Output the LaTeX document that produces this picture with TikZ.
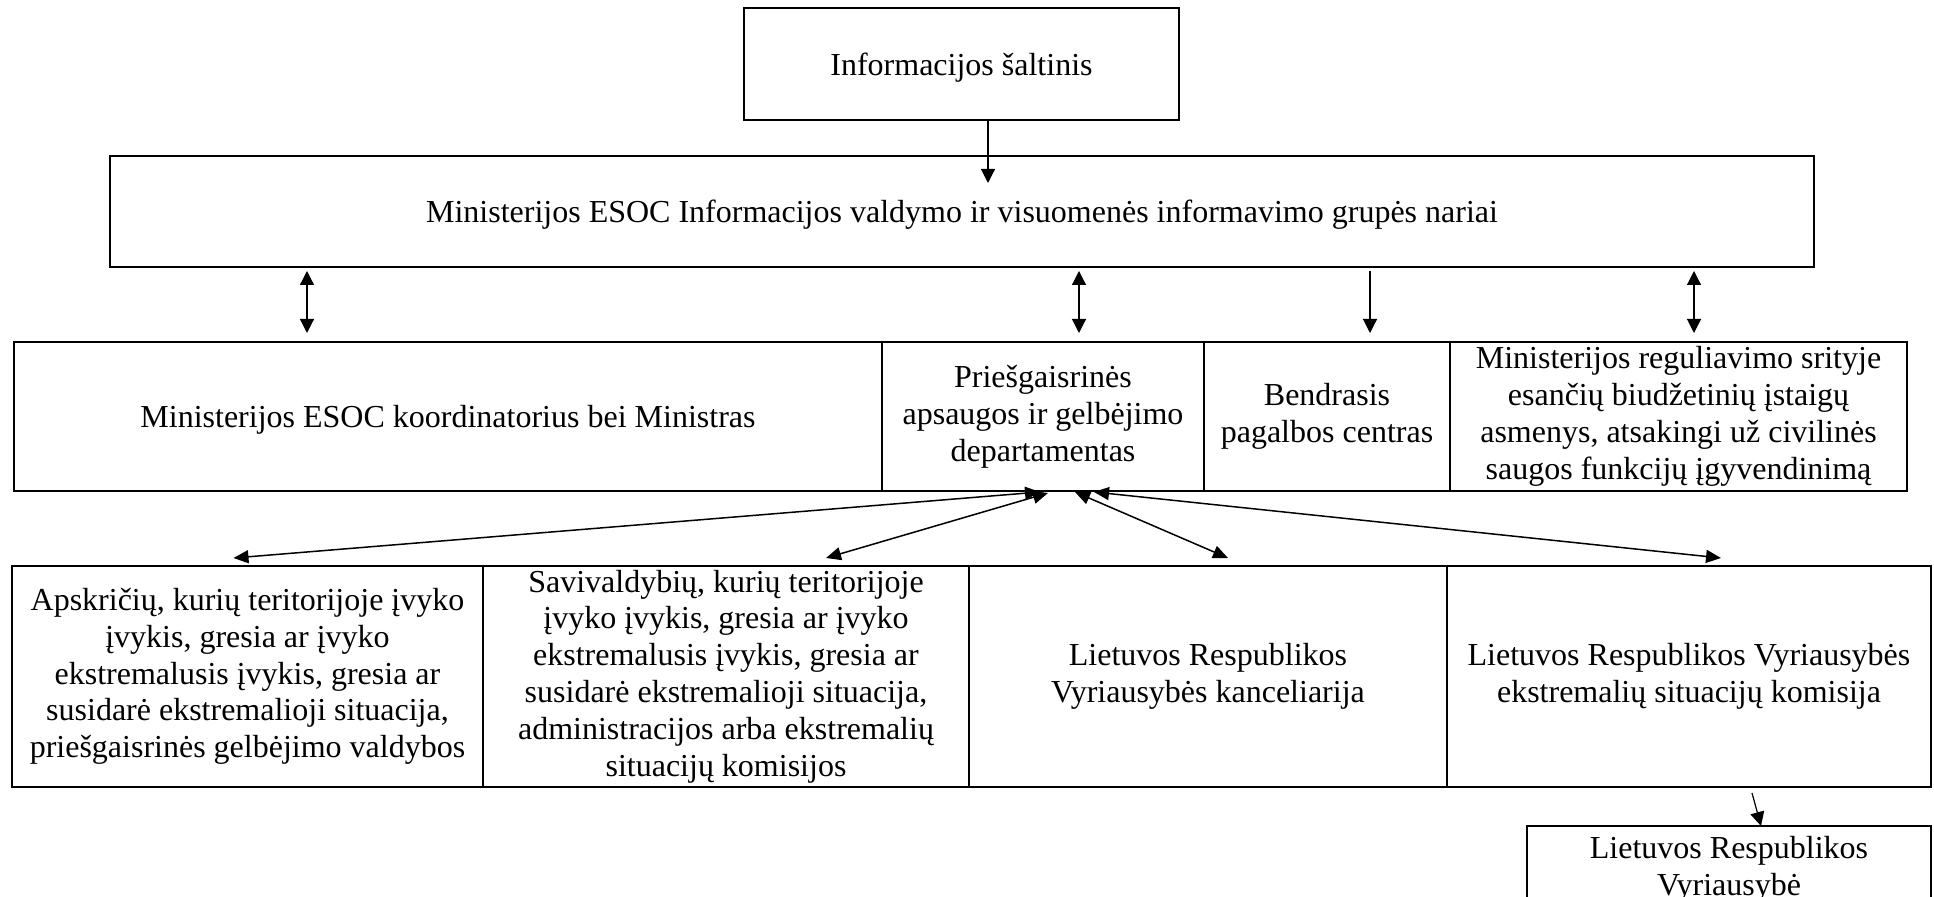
\documentclass[tikz,border=0pt]{standalone}
\usepackage{fontspec}
\setmainfont{Liberation Serif}
\usepackage{tikz}
\usetikzlibrary{arrows.meta,positioning,calc}

\begin{document}
\begin{tikzpicture}[
    x=0.5pt, y=-0.5pt,
    node distance=0pt,
    font=\fontsize{16}{18.4}\selectfont,
    box/.style={rectangle, draw, line width=0.85pt, align=center, outer sep=0pt, inner sep=2pt},
    line/.style={draw, line width=0.6pt, -{Triangle[length=7pt,width=7pt]}},
    both/.style={draw, line width=0.6pt, {Triangle[length=7pt,width=7pt]}-{Triangle[length=7pt,width=7pt]}},
    fan/.style={draw, line width=0.75pt, {Triangle[length=7.5pt,width=6.5pt]}-{Triangle[length=7.5pt,width=6.5pt]}}
]
    \useasboundingbox (0,0) rectangle (1934,897);

    % top
    \node [box, minimum width=217.5pt, minimum height=56pt, text depth=0pt] (src) at (961.5,64) {Informacijos šaltinis};
    \node [box, minimum width=852pt, minimum height=55.5pt, text depth=0pt] (grp) at (962,211.5) {Ministerijos ESOC Informacijos valdymo ir visuomenės informavimo grupės nariai};

    % second row
    \node [box, minimum width=434pt, minimum height=74.5pt, text depth=0pt] (koord) at (448,416.5) {Ministerijos ESOC koordinatorius bei Ministras};
    \node [box, minimum width=161pt, minimum height=74.5pt, right=of koord] (pagd) {Priešgaisrinės\\apsaugos ir gelbėjimo\\departamentas};
    \node [box, minimum width=123pt, minimum height=74.5pt, right=of pagd] (bpc) {Bendrasis\\pagalbos centras};
    \node [box, minimum width=228.5pt, minimum height=74.5pt, right=of bpc] (biud) {Ministerijos reguliavimo srityje\\esančių biudžetinių įstaigų\\asmenys, atsakingi už civilinės\\saugos funkcijų įgyvendinimą};

    % third row
    \node [box, minimum width=235.5pt, minimum height=110.5pt] (apskr) at (247.5,676.5) {Apskričių, kurių teritorijoje įvyko\\įvykis, gresia ar įvyko\\ekstremalusis įvykis, gresia ar\\susidarė ekstremalioji situacija,\\priešgaisrinės gelbėjimo valdybos};
    \node [box, minimum width=243pt, minimum height=110.5pt, right=of apskr] (saviv) {Savivaldybių, kurių teritorijoje\\įvyko įvykis, gresia ar įvyko\\ekstremalusis įvykis, gresia ar\\susidarė ekstremalioji situacija,\\administracijos arba ekstremalių\\situacijų komisijos};
    \node [box, minimum width=239pt, minimum height=110.5pt, right=of saviv] (kanc) {Lietuvos Respublikos\\Vyriausybės kanceliarija};
    \node [box, minimum width=242pt, minimum height=110.5pt, right=of kanc] (komis) {Lietuvos Respublikos Vyriausybės\\ekstremalių situacijų komisija};

    \node [box, minimum width=202pt, anchor=north, inner ysep=5pt] (vyr) at (1729,826) {Lietuvos Respublikos\\Vyriausybė};

    % connectors
    \coordinate (in1) at (988,183);
    \coordinate (v1) at (307,0);
    \coordinate (v2) at (1079,0);
    \coordinate (v3) at (1370,0);
    \coordinate (v4) at (1694,0);

    \path [line] (src.south -| in1) -- (in1);
    \path [both, shorten <=2pt, shorten >=4.5pt] (grp.south -| v1) -- (koord.north -| v1);
    \path [both, shorten <=2pt, shorten >=4.5pt] (grp.south -| v2) -- (pagd.north -| v2);
    \path [line, shorten <=2pt, shorten >=4.5pt] (grp.south -| v3) -- (bpc.north -| v3);
    \path [both, shorten <=2pt, shorten >=4.5pt] (grp.south -| v4) -- (biud.north -| v4);

    \path [fan] ([xshift=-1.5pt,yshift=-0.5pt]pagd.south) -- ([xshift=-7pt,yshift=4pt]apskr.north);
    \path [fan] ([xshift=2.5pt,yshift=-1pt]pagd.south) -- ([xshift=50pt,yshift=4pt]saviv.north);
    \path [fan] ([xshift=16pt,yshift=-0.5pt]pagd.south) -- ([xshift=10pt,yshift=4pt]kanc.north);
    \path [fan] ([xshift=25.5pt,yshift=-0.5pt]pagd.south) -- ([xshift=16pt,yshift=4pt]komis.north);

    \path [line] ([xshift=31.5pt,yshift=-3pt]komis.south) -- ([xshift=16pt]vyr.north);
\end{tikzpicture}
\end{document}
